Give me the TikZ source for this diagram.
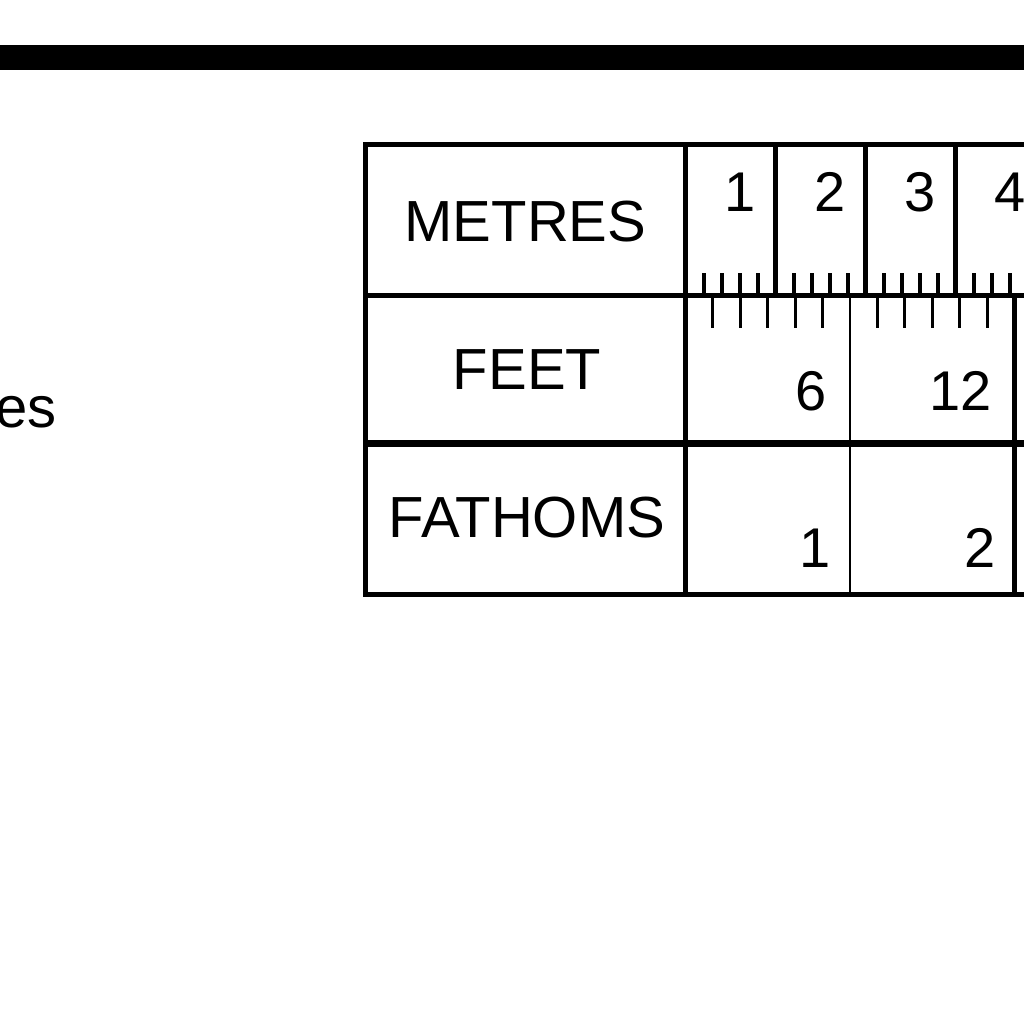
\documentclass[tikz,border=0pt]{standalone}
\usepackage{fontspec}
\setmainfont{Liberation Sans}
\begin{document}
\begin{tikzpicture}[x=1pt,y=-1pt]
\tikzstyle{unit label}=[inner sep=0,font=\fontsize{58}{60}\selectfont]
\tikzstyle{scale number}=[anchor=base east,inner sep=0,font=\fontsize{56}{60}\selectfont]
\tikzset{
	heavy rule/.style={line width=5pt},
	metre rule/.style={line width=4.5pt},
	metre tick/.style={line width=4pt},
	feet tick/.style={line width=3pt},
	feet rule/.style={line width=2.6pt}
}
\useasboundingbox (0,0) rectangle (1024,1024);
\clip (0,0) rectangle (1024,1024);
% bar across the top
\fill (-10,45) rectangle (1040,70);
\node[unit label,anchor=base east] (caption) at (57,427) {es};
% frame of the table
\draw[heavy rule] (365,145) rectangle (1100,594.5);
\draw[heavy rule] (365,295.5) -- (1100,295.5);
\draw[line width=7pt] (365,443.5) -- (1100,443.5);
\draw[heavy rule] (685.5,145) -- (685.5,594.5);
\node[unit label] (metres) at (525.5,222) {METRES};
\node[unit label] (feet) at (527,370) {FEET};
\node[unit label] (fathoms) at (527,518) {FATHOMS};
% metres
\foreach \m in {1,...,4}{
	\draw[metre rule] (685.5+90*\m,145) -- (685.5+90*\m,295.5);
	\node[scale number] (metre\m) at (685.5+90*\m-20,212) {\m};
}
\foreach \m in {0,...,3}
	\foreach \k in {1,...,4}
		\draw[metre tick] (685.5+90*\m+18*\k,273) -- (685.5+90*\m+18*\k,295.5);
% feet and fathoms
\foreach \f in {1,...,13}{
	\pgfmathtruncatemacro\r{mod(\f,6)}
	\ifnum\r>0
		\draw[feet tick] (685.5+27.432*\f,295.5) -- (685.5+27.432*\f,328);
	\fi
}
\draw[feet rule] (850.1,295.5) -- (850.1,594.5);
\draw[metre rule] (1014.7,295.5) -- (1014.7,594.5);
\foreach \n/\x in {6/850.1,12/1014.7}
	\node[scale number] (feet\n) at (\x-23,410) {\n};
\foreach \n/\x in {1/850.1,2/1014.7}
	\node[scale number] (fathom\n) at (\x-19,567) {\n};
\end{tikzpicture}
\end{document}
